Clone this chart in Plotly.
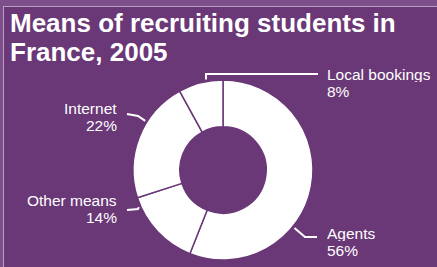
import math
import plotly.graph_objects as go

# ---- data ----
labels = ["Agents", "Other means", "Internet", "Local bookings"]
values = [56, 14, 22, 8]
title_lines = ["Means of recruiting students in", "France, 2005"]

# ---- style / layout constants ----
W, H = 437, 267
BG = "#6a3877"
BAND = "#7c4f8b"
RULE = "#b9a0c3"
WHITE = "#ffffff"
FONT = "Liberation Sans"
CX, CY, R = 223, 170, 90      # donut centre / radius in px
HOLE = 0.48

# leader line style per label: fraction inside slice where line starts,
# elbow point, end point (px), label side
leader_frac = [0.64, 0.885, 0.635, 0.63]
leader_elbow = [(305, 237), (138, 209), (138, 116), (206, 74)]
leader_end = [(317, 237), (127, 210), (127, 114), (318, 74)]
label_pos = [(326, 233.5), (118, 200), (118, 108.5), (326, 74.5)]
label_align = ["left", "right", "right", "left"]
LINE_GAP = 17


def px(x):
    return x / W


def py(y):
    return 1 - y / H


fig = go.Figure()
fig.add_trace(go.Pie(
    labels=labels, values=values, sort=False, direction="clockwise",
    rotation=0, hole=HOLE, textinfo="none", hoverinfo="label+percent",
    marker=dict(colors=[WHITE] * len(values), line=dict(color=BG, width=1.5)),
    domain=dict(x=[px(CX - R), px(CX + R)], y=[py(CY + R), py(CY - R)]),
    showlegend=False,
))

shapes = [
    dict(type="rect", xref="paper", yref="paper", x0=0, x1=1, y0=py(6), y1=1,
         fillcolor=BAND, line_width=0, layer="below"),
    dict(type="rect", xref="paper", yref="paper", x0=0, x1=px(3), y0=0, y1=1,
         fillcolor=BAND, line_width=0, layer="below"),
    dict(type="line", xref="paper", yref="paper", x0=px(3), x1=1, y0=py(6.5), y1=py(6.5),
         line=dict(color=RULE, width=1)),
    dict(type="line", xref="paper", yref="paper", x0=px(3.5), x1=px(3.5), y0=0, y1=py(6.5),
         line=dict(color=RULE, width=1)),
]

annotations = []
total = sum(values)
cum = 0
for i, v in enumerate(values):
    a0 = cum / total * 360
    a1 = (cum + v) / total * 360
    cum += v
    ang = math.radians(a0 + leader_frac[i] * (a1 - a0))
    sx = CX + (R + 2) * math.sin(ang)
    sy = CY - (R + 2) * math.cos(ang)
    ex, ey = leader_elbow[i]
    fx, fy = leader_end[i]
    path = f"M {px(sx)} {py(sy)} L {px(ex)} {py(ey)} L {px(fx)} {py(fy)}"
    shapes.append(dict(type="path", xref="paper", yref="paper", path=path,
                       line=dict(color=WHITE, width=2)))
    lx, ly = label_pos[i]
    pct = round(v / total * 100)
    for j, t in enumerate([labels[i], f"{pct}%"]):
        annotations.append(dict(
            x=px(lx), y=py(ly + j * LINE_GAP), xref="paper", yref="paper",
            text=t, showarrow=False, xanchor=label_align[i], yanchor="middle",
            height=15, valign="middle",
            font=dict(family=FONT, size=15.5, color=WHITE), borderpad=0))

for j, t in enumerate(title_lines):
    annotations.append(dict(
        x=px(9), y=py(23 + j * 29), xref="paper", yref="paper", text=f"<b>{t}</b>",
        showarrow=False, xanchor="left", yanchor="middle", height=28,
        font=dict(family=FONT, size=26, color=WHITE), borderpad=0))

fig.update_layout(
    width=W, height=H, margin=dict(l=0, r=0, t=0, b=0),
    paper_bgcolor=BG, plot_bgcolor=BG,
    shapes=shapes, annotations=annotations,
)

fig.write_html("out.html", config={"displayModeBar": False},
               post_script="document.body.style.margin='0';")
